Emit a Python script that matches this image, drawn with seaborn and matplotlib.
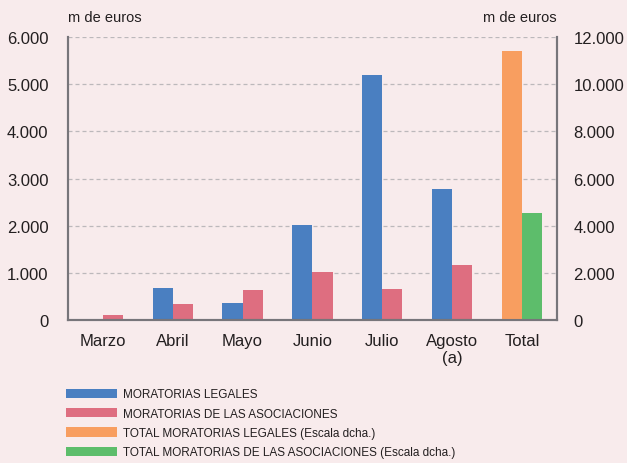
import pandas as pd
import matplotlib.pyplot as plt
import seaborn as sns
from matplotlib.patches import Patch
from matplotlib.ticker import FuncFormatter, FixedLocator

# Datos (m de euros)
meses = ["Marzo", "Abril", "Mayo", "Junio", "Julio", "Agosto", "Total"]
legales = [0, 680, 360, 2010, 5190, 2780]
asociaciones = [100, 340, 640, 1020, 660, 1170]
total_legales = 11400
total_asociaciones = 4540

serie_leg = "MORATORIAS LEGALES"
serie_aso = "MORATORIAS DE LAS ASOCIACIONES"
serie_tleg = "TOTAL MORATORIAS LEGALES (Escala dcha.)"
serie_taso = "TOTAL MORATORIAS DE LAS ASOCIACIONES (Escala dcha.)"

colores = {serie_leg: "#4a7fc1", serie_aso: "#de6e80",
           serie_tleg: "#f89e60", serie_taso: "#5dbd6b"}

df_mes = pd.DataFrame({
    "mes": meses[:-1] * 2,
    "serie": [serie_leg] * 6 + [serie_aso] * 6,
    "valor": legales + asociaciones,
})
df_tot = pd.DataFrame({
    "mes": ["Total", "Total"],
    "serie": [serie_tleg, serie_taso],
    "valor": [total_legales, total_asociaciones],
})

fondo = "#f8ebec"
gris = "#77757a"
sns.set_theme(style="white")
plt.rcParams["font.family"] = ["Liberation Sans", "DejaVu Sans"]

fig = plt.figure(figsize=(6.27, 4.64), dpi=100, facecolor=fondo)
ax = fig.add_axes([0.1085, 0.308, 0.7795, 0.610])
ax.set_facecolor(fondo)

sns.barplot(data=df_mes, x="mes", y="valor", hue="serie", order=meses,
            hue_order=[serie_leg, serie_aso], palette=colores, width=0.58,
            saturation=1, ax=ax, legend=False, edgecolor="none")
ax2 = ax.twinx()
sns.barplot(data=df_tot, x="mes", y="valor", hue="serie", order=meses,
            hue_order=[serie_tleg, serie_taso], palette=colores, width=0.58,
            saturation=1, ax=ax2, legend=False, edgecolor="none")

ax.set_xlim(-0.5, 6.5)
ax.set_ylim(0, 6000)
ax2.set_ylim(0, 12000)
ax.set_yticks(range(0, 6001, 1000))
ax2.set_yticks(range(0, 12001, 2000))
fmt = FuncFormatter(lambda v, p: f"{int(v):,}".replace(",", "."))
ax.yaxis.set_major_formatter(fmt)
ax2.yaxis.set_major_formatter(fmt)

ax.yaxis.grid(True, linestyle=(0, (3.2, 2.4)), color="#bcb8bb", linewidth=0.9)
ax.set_axisbelow(True)
ax2.set_zorder(ax.get_zorder() + 1)
ax2.patch.set_visible(False)

for a in (ax, ax2):
    a.set_xlabel("")
    a.set_ylabel("")
    a.spines["top"].set_visible(False)
    for s in ("left", "right", "bottom"):
        a.spines[s].set_color(gris)
        a.spines[s].set_linewidth(1.5)
    a.tick_params(axis="y", length=0, labelsize=12, labelcolor="#231f20", pad=14)

ax2.tick_params(axis="y", pad=12)
ax.set_xticks(range(7))
ax.set_xticklabels(["Marzo", "Abril", "Mayo", "Junio", "Julio", "Agosto\n(a)", "Total"])
ax.tick_params(axis="x", length=0, labelsize=12, labelcolor="#231f20", pad=9)
ax.xaxis.set_minor_locator(FixedLocator([i + 0.5 for i in range(6)]))
ax.tick_params(axis="x", which="minor", direction="in", length=4, color="#a8a4a7", width=1)
ax2.tick_params(axis="x", length=0, labelbottom=False)

ax.text(0, 1.045, "m de euros", transform=ax.transAxes, ha="left", va="bottom",
        fontsize=10.5, color="#231f20")
ax.text(1, 1.045, "m de euros", transform=ax.transAxes, ha="right", va="bottom",
        fontsize=10.5, color="#231f20")

handles = [Patch(facecolor=colores[s], edgecolor="none")
           for s in (serie_leg, serie_aso, serie_tleg, serie_taso)]
labels = [serie_leg, serie_aso, serie_tleg, serie_taso]
fig.legend(handles, labels, loc="upper left", bbox_to_anchor=(0.097, 0.171),
           frameon=False, handlelength=4.4, handleheight=0.85,
           labelspacing=0.62, handletextpad=0.45, borderaxespad=0,
           prop={"family": ["Liberation Sans Narrow", "Liberation Sans"], "size": 8.5},
           labelcolor="#231f20")

fig.savefig("out.png", dpi=100, facecolor=fondo)
